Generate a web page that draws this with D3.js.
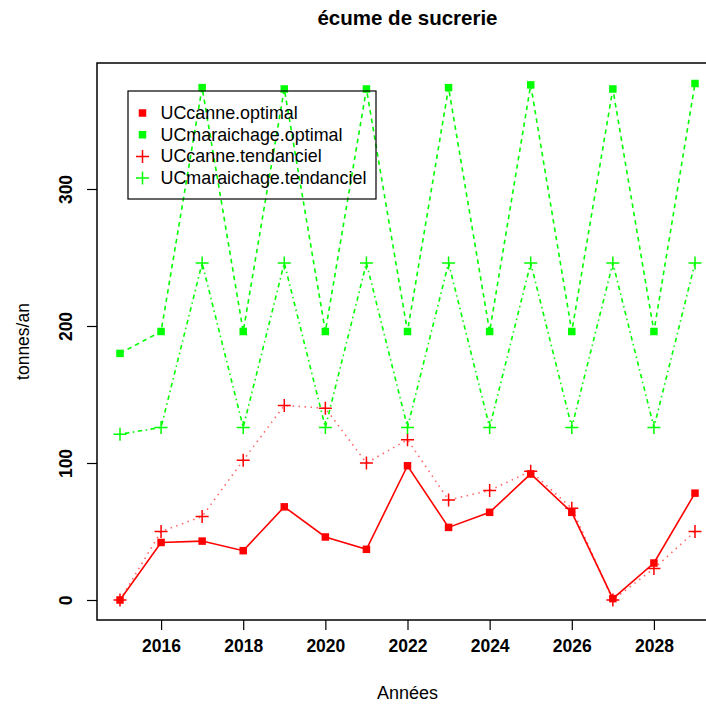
<!DOCTYPE html>
<html lang="fr">
<head>
<meta charset="UTF-8">
<script src="https://d3js.org/d3.v7.min.js"></script>
<style>
  body { margin: 0; background: #fff; }
  text { font-family: "Liberation Sans", Arial, Helvetica, sans-serif; fill: #000; }
</style>
</head>
<body>
<svg id="chart" width="706" height="706"></svg>
<script>
  var years = d3.range(2015, 2030);
  var seriesNames = ["UCcanne.optimal", "UCmaraichage.optimal", "UCcanne.tendanciel", "UCmaraichage.tendanciel"];
  var canneOptimal = [0, 42, 43, 36, 68, 46, 37, 98, 53, 64, 92, 64, 1, 27, 78];
  var maraichageOptimal = [180, 196, 374, 196, 373, 196, 373, 196, 374, 196, 376, 196, 373, 196, 377];
  var canneTendanciel = [0, 50, 61, 102, 142, 140, 100, 117, 73, 80, 94, 67, 0, 23, 50];
  var maraichageTendanciel = [121, 126, 246, 126, 246, 126, 246, 126, 246, 126, 246, 126, 246, 126, 246];
  var xTicks = [2016, 2018, 2020, 2022, 2024, 2026, 2028];
  var yTicks = [0, 100, 200, 300];

  var series = [
    {name: seriesNames[0], values: canneOptimal, color: "#ff0000", dash: null, pch: "square", op: 1},
    {name: seriesNames[1], values: maraichageOptimal, color: "#00ff00", dash: "4.5,4", pch: "square", op: 1},
    {name: seriesNames[2], values: canneTendanciel, color: "#ff0000", dash: "1.5,4.5", pch: "plus", op: 0.6},
    {name: seriesNames[3], values: maraichageTendanciel, color: "#00ff00", dash: "1.5,3.5,4.5,3.5", pch: "plus", op: 1}
  ];

  var svg = d3.select("#chart");
  var box = {left: 97, top: 63, right: 718, bottom: 620};

  var xs = d3.scaleLinear().domain([2015, 2029]).range([120, 695]);
  var ys = d3.scaleLinear().domain([0, 300]).range([600, 189]);

  var font = 17.5;

  // title
  svg.append("text")
    .attr("x", (box.left + box.right) / 2)
    .attr("y", 25)
    .attr("text-anchor", "middle")
    .style("font-weight", "bold")
    .style("font-size", "20.5px")
    .text("écume de sucrerie");

  // data lines
  var line = d3.line()
    .x(function(d, i) { return xs(years[i]); })
    .y(function(d) { return ys(d); });

  var plot = svg.append("g");
  series.forEach(function(s) {
    plot.append("path")
      .datum(s.values)
      .attr("d", line)
      .attr("fill", "none")
      .attr("stroke", s.color)
      .attr("stroke-opacity", s.op)
      .attr("stroke-width", 1.6)
      .attr("stroke-dasharray", s.dash);
  });

  function drawSymbol(g, type, color, x, y) {
    if (type === "square") {
      g.append("rect")
        .attr("x", x - 3.75).attr("y", y - 3.75)
        .attr("width", 7.5).attr("height", 7.5)
        .attr("fill", color);
    } else {
      g.append("path")
        .attr("d", "M" + (x - 6.5) + "," + y + "H" + (x + 6.5) + "M" + x + "," + (y - 6.5) + "V" + (y + 6.5))
        .attr("stroke", color)
        .attr("stroke-width", 1.5)
        .attr("fill", "none");
    }
  }

  series.forEach(function(s) {
    s.values.forEach(function(v, i) {
      drawSymbol(plot, s.pch, s.color, xs(years[i]), ys(v));
    });
  });

  // box
  svg.append("rect")
    .attr("x", box.left).attr("y", box.top)
    .attr("width", box.right - box.left).attr("height", box.bottom - box.top)
    .attr("fill", "none").attr("stroke", "#000").attr("stroke-width", 1.5);

  // axes
  var xAxis = svg.append("g")
    .attr("transform", "translate(0," + box.bottom + ")")
    .call(d3.axisBottom(xs).tickValues(xTicks).tickFormat(d3.format("d")).tickSize(10).tickPadding(22));
  xAxis.select(".domain").remove();
  xAxis.selectAll("line").attr("stroke", "#000").attr("stroke-width", 1.2);
  xAxis.selectAll("text")
    .style("font-family", "'Liberation Sans', Arial, sans-serif")
    .style("font-size", font + "px").style("font-weight", "bold")
    .attr("dy", "0");

  var yAxis = svg.append("g")
    .attr("transform", "translate(" + box.left + ",0)")
    .call(d3.axisLeft(ys).tickValues(yTicks).tickSize(10));
  yAxis.select(".domain").remove();
  yAxis.selectAll("line").attr("stroke", "#000").attr("stroke-width", 1.2);
  yAxis.selectAll("text")
    .style("font-family", "'Liberation Sans', Arial, sans-serif")
    .style("font-size", font + "px").style("font-weight", "bold")
    .attr("x", null).attr("dy", null)
    .attr("text-anchor", "middle")
    .attr("transform", "translate(-25.5,0) rotate(-90)");

  // axis titles
  svg.append("text")
    .attr("x", (box.left + box.right) / 2)
    .attr("y", 699)
    .attr("text-anchor", "middle")
    .style("font-size", "18px")
    .text("Années");

  svg.append("text")
    .attr("transform", "translate(29," + ((box.top + box.bottom) / 2) + ") rotate(-90)")
    .attr("text-anchor", "middle")
    .style("font-size", "17.5px")
    .text("tonnes/an");

  // legend (transparent, lines show through as in the original)
  var legend = svg.append("g");
  legend.append("rect")
    .attr("x", 128).attr("y", 91)
    .attr("width", 248).attr("height", 108)
    .attr("fill", "none").attr("stroke", "#000").attr("stroke-width", 1.2);
  series.forEach(function(s, i) {
    var yb = 119 + i * 21.7;
    drawSymbol(legend, s.pch, s.color, 142.5, yb - 6);
    legend.append("text")
      .attr("x", 160.5).attr("y", yb)
      .style("font-size", "17.9px")
      .text(s.name);
  });
</script>
</body>
</html>
